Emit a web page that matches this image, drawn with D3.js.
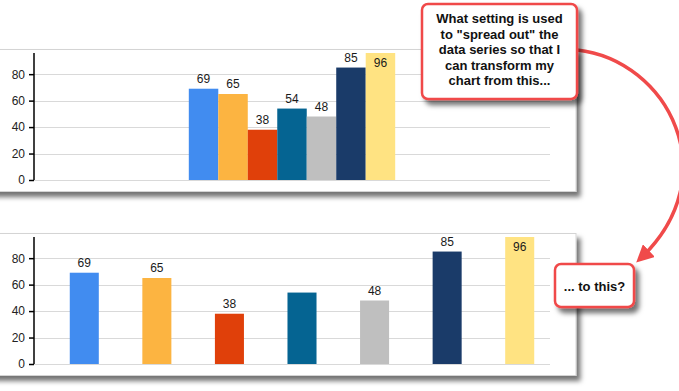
<!DOCTYPE html>
<html>
<head>
<meta charset="utf-8">
<script src="https://cdn.jsdelivr.net/npm/d3@7"></script>
<style>
  body { margin: 0; background: #fff; }
  svg { display: block; font-family: Arial, "Liberation Sans", sans-serif; }
</style>
</head>
<body>
<div id="chart"></div>
<script>
var series = ["Series1", "Series2", "Series3", "Series4", "Series5", "Series6", "Series7"];
var values = [69, 65, 38, 54, 48, 85, 96];
var colors = ["#418CF0", "#FCB441", "#E0400A", "#056492", "#BFBFBF", "#1A3B69", "#FFE382"];
var yTicks = [0, 20, 40, 60, 80];
// the second chart in the screenshot lost the label of Series4
var spreadLabels = [true, true, true, false, true, true, true];
var question = ["What setting is used", "to \"spread out\" the", "data series so that I", "can transform my", "chart from this..."];
var answer = "... to this?";

var W = 679, H = 391;
var svg = d3.select("#chart").append("svg").attr("width", W).attr("height", H);

var defs = svg.append("defs");
var sh = defs.append("filter").attr("id", "shadow")
  .attr("x", "-10%").attr("y", "-10%").attr("width", "130%").attr("height", "140%");
sh.append("feDropShadow").attr("dx", 4).attr("dy", 5).attr("stdDeviation", 2.5)
  .attr("flood-color", "#000").attr("flood-opacity", 0.55);

defs.append("marker").attr("id", "head")
  .attr("viewBox", "0 0 10 10").attr("refX", 7).attr("refY", 5)
  .attr("markerWidth", 5).attr("markerHeight", 5).attr("orient", "auto")
  .append("path").attr("d", "M0,0 L10,5 L0,10 Z").attr("fill", "#F04A4A");

var y = d3.scaleLinear().domain([0, d3.max(values)]);

function drawPanel(top, mode, showLabel) {
  var plotTop = top + 4, plotBottom = top + 131;
  var left = 34, right = 550;

  svg.append("rect")
    .attr("x", -10).attr("y", top + 0.5).attr("width", 586).attr("height", 142)
    .attr("fill", "#fff").attr("stroke", "#d4d4d4").attr("filter", "url(#shadow)");

  y.range([plotBottom, plotTop]);

  var g = svg.append("g");

  g.selectAll(".grid").data(yTicks).enter().append("line")
    .attr("x1", left).attr("x2", right)
    .attr("y1", function(d) { return Math.round(y(d)) + 0.5; })
    .attr("y2", function(d) { return Math.round(y(d)) + 0.5; })
    .attr("stroke", "#d9d9d9");

  var bars;
  if (mode === "grouped") {
    var x0 = d3.scaleBand().domain(["g"]).range([left, right]).paddingInner(0.6).paddingOuter(0.3);
    var x1 = d3.scaleBand().domain(series).range([x0("g"), x0("g") + x0.bandwidth()]);
    bars = { x: x1, bw: x1.bandwidth() };
  } else {
    var xs = d3.scaleBand().domain(series).range([48, 556]).paddingInner(0.6).paddingOuter(0.3);
    bars = { x: xs, bw: xs.bandwidth() };
  }

  g.selectAll(".bar").data(values).enter().append("rect")
    .attr("x", function(d, i) { return bars.x(series[i]); })
    .attr("width", bars.bw)
    .attr("y", function(d) { return y(d); })
    .attr("height", function(d) { return plotBottom - y(d); })
    .attr("fill", function(d, i) { return colors[i]; });

  g.selectAll(".lbl").data(values).enter().append("text")
    .filter(function(d, i) { return showLabel[i]; })
    .attr("x", function(d, i) { return bars.x(series[values.indexOf(d)]) + bars.bw / 2; })
    .attr("y", function(d) {
      return (y(d) - 15 < top) ? y(d) + 14 : y(d) - 6;
    })
    .attr("text-anchor", "middle")
    .attr("font-size", 12)
    .attr("fill", "#1a1a1a")
    .text(function(d) { return d; });

  var axis = g.append("g")
    .attr("transform", "translate(" + left + ",0)")
    .call(d3.axisLeft(y).tickValues(yTicks).tickSize(5).tickPadding(4));
  axis.select(".domain").attr("stroke", "#000").attr("stroke-width", 1.5)
    .attr("d", "M0," + plotTop + "V" + plotBottom);
  axis.selectAll(".tick line").attr("stroke", "#000").attr("stroke-width", 1.5);
  axis.selectAll(".tick text").attr("font-size", 12).attr("fill", "#222")
    .attr("font-family", "Arial, 'Liberation Sans', sans-serif");
}

drawPanel(49, "grouped", series.map(function() { return true; }));
drawPanel(233, "spread", spreadLabels);

// curved arrow between the callouts
svg.append("path")
  .attr("d", "M577,50 C668,60 728,176 640,259")
  .attr("fill", "none").attr("stroke", "#F04A4A").attr("stroke-width", 3.5)
  .attr("marker-end", "url(#head)");

function callout(x, yTop, w, h, lines, lineH, firstY) {
  svg.append("rect")
    .attr("x", x).attr("y", yTop).attr("width", w).attr("height", h).attr("rx", 6)
    .attr("fill", "#fff").attr("stroke", "#F04A4A").attr("stroke-width", 2.5)
    .attr("filter", "url(#shadow)");
  svg.append("g").selectAll("text").data(lines).enter().append("text")
    .attr("x", x + w / 2)
    .attr("y", function(d, i) { return firstY + i * lineH; })
    .attr("text-anchor", "middle")
    .attr("font-size", 13).attr("font-weight", "bold").attr("fill", "#111")
    .text(function(d) { return d; });
}

callout(422, 4, 155, 95, question, 15.5, 23);
callout(555, 264, 79, 43, [answer], 0, 291);
</script>
</body>
</html>
